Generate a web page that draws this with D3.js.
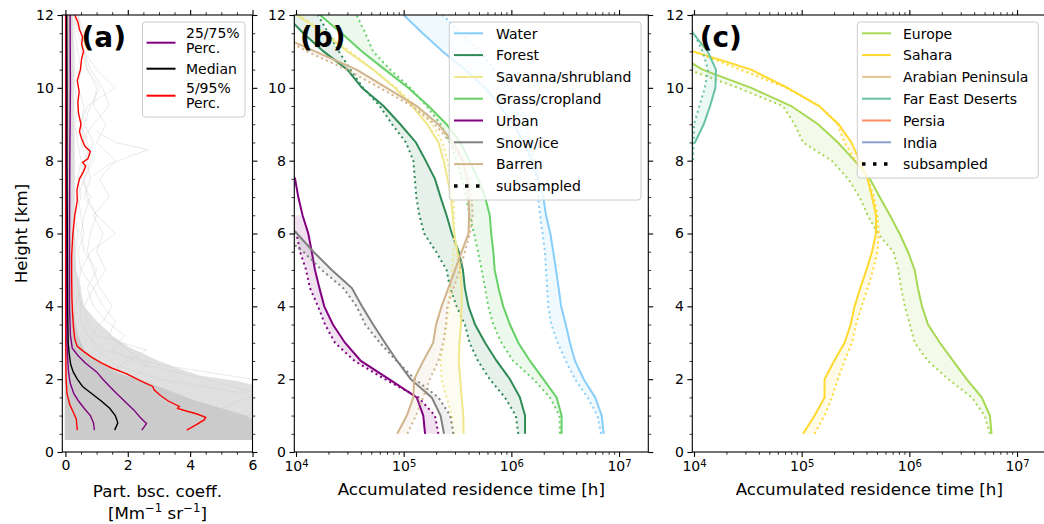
<!DOCTYPE html>
<html>
<head>
<meta charset="utf-8">
<script src="https://cdn.jsdelivr.net/npm/d3@7"></script>
<style>
  body { margin: 0; background: #fff; }
  text { font-family: "DejaVu Sans", sans-serif; }
</style>
</head>
<body>
<svg id="fig" width="1044" height="524"></svg>
<script>
// ---------------- data: panel (a) backscatter profiles ----------------
// percentile profiles (height km, coefficient Mm-1 sr-1)
const p05H = [0.6, 0.9, 1.1, 1.3, 1.6, 2.0, 3, 6, 12];
const p05X = [0.38, 0.35, 0.25, 0.14, 0.05, 0.02, 0.01, 0.01, 0.01];
const p25H = [0.6, 0.8, 1.0, 1.2, 1.4, 1.6, 1.9, 2.2, 2.6, 3.0, 4, 6, 8, 10, 12];
const p25X = [0.93, 0.9, 0.8, 0.6, 0.42, 0.27, 0.15, 0.1, 0.07, 0.05, 0.04, 0.04, 0.03, 0.03, 0.03];
const medH = [0.6, 0.8, 1.0, 1.2, 1.4, 1.6, 1.8, 2.0, 2.2, 2.4, 2.7, 3.0, 4, 6, 8, 10, 12];
const medX = [1.58, 1.68, 1.6, 1.42, 1.15, 0.85, 0.55, 0.38, 0.25, 0.17, 0.12, 0.09, 0.07, 0.06, 0.05, 0.05, 0.04];
const p75H = [0.6, 0.78, 0.95, 1.15, 1.35, 1.6, 1.8, 2.0, 2.2, 2.45, 2.65, 2.85, 3.2, 4, 6, 8, 10, 12];
const p75X = [2.45, 2.6, 2.4, 2.2, 1.95, 1.65, 1.42, 1.2, 1.0, 0.63, 0.4, 0.22, 0.16, 0.13, 0.13, 0.14, 0.16, 0.15];
const p95H = [0.6, 0.75, 0.88, 0.95, 1.05, 1.12, 1.2, 1.25, 1.4, 1.55, 1.7, 1.8, 1.9, 2.0, 2.15, 2.3, 2.45, 2.6,
              2.75, 2.9, 3.1, 3.4, 3.8, 4.2, 4.8, 5.4, 6.0, 6.5, 6.9, 7.2, 7.5, 7.7, 7.85, 7.95, 8.05, 8.25,
              8.4, 8.6, 8.8, 9.0, 9.3, 9.6, 9.9, 10.2, 10.5, 10.8, 11.0, 11.2, 11.4, 11.6, 11.8, 12.0];
const p95X = [3.89, 4.2, 4.45, 4.5, 4.2, 3.9, 3.6, 3.65, 3.3, 3.05, 2.85, 2.8, 2.55, 2.3, 1.95, 1.5, 1.15, 0.85,
              0.6, 0.38, 0.3, 0.26, 0.23, 0.21, 0.2, 0.2, 0.24, 0.3, 0.38, 0.37, 0.45, 0.58, 0.65, 0.55, 0.72, 0.8,
              0.62, 0.52, 0.45, 0.5, 0.42, 0.4, 0.44, 0.38, 0.48, 0.52, 0.58, 0.52, 0.55, 0.45, 0.4, 0.3];
// outer (light) and core (dense) extent of the individual-profile cloud
const outerH = [0.33, 0.5, 1.0, 1.5, 1.8, 1.95, 2.1, 2.3, 2.5, 2.7, 2.9, 3.2, 3.6, 4.0, 5.0, 6.0, 8.0, 10.0, 12.0];
const outerX = [6.2, 6.2, 6.2, 6.2, 6.2, 5.5, 4.3, 3.6, 3.0, 2.5, 2.0, 1.5, 1.0, 0.6, 0.35, 0.3, 0.3, 0.28, 0.25];
const coreH = [0.33, 0.45, 0.6, 0.8, 1.0, 1.2, 1.4, 1.6, 1.8, 2.0, 2.2, 2.5, 2.8, 3.2, 3.6, 4.0, 5, 6, 8, 10, 12];
const coreX = [6.2, 6.2, 6.2, 6.2, 5.8, 5.0, 4.2, 3.6, 3.0, 2.3, 1.6, 1.0, 0.6, 0.4, 0.3, 0.22, 0.18, 0.18, 0.18, 0.16, 0.15];
// some single profiles
const profH = [0.4, 0.8, 1.2, 1.6, 2.0, 2.4, 2.8, 3.2, 3.6, 4.0, 4.5, 5.0, 5.5, 6.0, 6.5, 7.0, 7.5, 8.0, 8.5, 9.0, 9.5, 10.0, 10.5, 11.0, 11.5, 12.0];
const prof1 = [5.5, 6.2, 6.2, 5.8, 3.0, 1.6, 1.0, 0.8, 1.2, 1.5, 1.1, 0.9, 0.7, 0.8, 1.0, 0.7, 0.6, 0.9, 0.7, 0.5, 0.6, 0.4, 0.5, 0.4, 0.3, 0.3];
const prof2 = [3.0, 4.0, 3.5, 2.8, 2.2, 2.6, 2.0, 1.4, 1.6, 1.2, 0.9, 1.3, 1.0, 1.2, 0.9, 1.4, 1.1, 1.6, 1.0, 1.3, 0.9, 1.0, 0.7, 0.6, 0.5, 0.4];
const prof3 = [4.0, 5.5, 6.2, 6.2, 4.5, 2.5, 1.5, 1.9, 1.3, 0.9, 0.7, 1.0, 0.6, 0.5, 0.6, 0.8, 0.5, 0.6, 0.9, 0.6, 0.8, 1.1, 0.7, 0.5, 0.6, 0.4];
const prof4 = [2.0, 2.5, 2.0, 1.6, 1.4, 1.8, 2.6, 1.0, 0.7, 0.6, 0.9, 0.5, 0.8, 1.6, 1.0, 0.6, 0.8, 0.7, 0.5, 0.9, 1.4, 1.2, 0.8, 0.6, 0.4, 0.3];
const prof5 = [6.2, 6.2, 5.0, 6.2, 6.0, 3.0, 1.2, 0.7, 0.5, 0.5, 0.4, 0.5, 0.4, 0.6, 0.5, 0.4, 0.6, 0.8, 0.6, 0.5, 0.7, 1.6, 1.0, 0.6, 0.5, 0.4];
const prof6 = [1.5, 2.0, 2.8, 3.5, 2.4, 1.2, 0.6, 0.4, 0.3, 0.3, 0.5, 0.3, 0.3, 0.4, 0.3, 0.5, 0.4, 0.5, 0.4, 0.3, 0.4, 0.3, 0.3, 0.3, 0.2, 0.2];
const spikeH = [7.6, 7.9, 8.1, 8.3, 8.5, 8.8];
const spikeX = [0.9, 1.4, 2.0, 2.66, 1.6, 1.0];

// ---------------- data: panels (b), (c) residence time [h] ----------------
const heights = [0.5, 1, 1.5, 2, 2.5, 3, 3.5, 4, 4.5, 5, 5.5, 6, 6.5, 7, 7.5, 8, 8.5, 9, 9.5, 10, 10.5, 11, 11.5, 12];

const waterFull  = [7.2e6, 6.9e6, 6.0e6, 4.7e6, 3.9e6, 3.5e6, 3.2e6, 2.9e6, 2.75e6, 2.6e6, 2.45e6, 2.3e6, 2.1e6, 1.98e6, 1.78e6, 1.55e6, 1.3e6, 1.05e6, 7.8e5, 5.7e5, 3.7e5, 2.3e5, 1.5e5, 1.0e5];
const waterSub   = [6.8e6, 6.3e6, 5.1e6, 3.9e6, 3.2e6, 2.7e6, 2.35e6, 2.2e6, 2.15e6, 2.1e6, 2.05e6, 1.95e6, 1.85e6, 1.77e6, 1.7e6, 1.6e6, 1.5e6, 1.38e6, 1.2e6, 9.7e5, 7.0e5, 5.1e5, 3.45e5, 2.3e5];
const forestFull = [1.34e6, 1.34e6, 1.2e6, 9.7e5, 7.3e5, 5.7e5, 4.6e5, 4.0e5, 3.7e5, 3.55e5, 3.25e5, 2.8e5, 2.5e5, 2.2e5, 1.95e5, 1.6e5, 1.3e5, 9.3e4, 6.5e4, 4.1e4, 3.0e4, 1.8e4, 1.17e4, 8.0e3];
const forestSub  = [1.16e6, 1.1e6, 8.7e5, 6.3e5, 4.9e5, 4.1e5, 3.7e5, 3.1e5, 2.7e5, 2.5e5, 2.0e5, 1.55e5, 1.4e5, 1.31e5, 1.27e5, 1.23e5, 1.05e5, 7.8e4, 6.0e4, 4.2e4, 3.2e4, 2.5e4, 2.0e4, 1.6e4];
const savannaFull = [3.6e5, 3.58e5, 3.45e5, 3.35e5, 3.25e5, 3.3e5, 3.4e5, 3.45e5, 3.45e5, 3.35e5, 3.15e5, 2.95e5, 2.85e5, 2.75e5, 2.55e5, 2.35e5, 2.1e5, 1.65e5, 1.2e5, 8.3e4, 5.2e4, 3.0e4, 1.8e4, 1.02e4];
const savannaSub  = [2.9e5, 2.8e5, 2.5e5, 2.25e5, 2.2e5, 2.35e5, 2.5e5, 2.6e5, 2.7e5, 2.8e5, 2.9e5, 2.95e5, 2.95e5, 2.9e5, 2.75e5, 2.55e5, 2.3e5, 1.85e5, 1.3e5, 8.5e4, 5.2e4, 3.2e4, 1.9e4, 1.07e4];
const grassFull = [2.93e6, 2.93e6, 2.63e6, 1.98e6, 1.49e6, 1.16e6, 9.7e5, 8.4e5, 7.6e5, 7.0e5, 6.8e5, 6.5e5, 6.3e5, 5.7e5, 4.9e5, 4.1e5, 3.35e5, 2.5e5, 1.7e5, 1.1e5, 6.7e4, 4.1e4, 2.65e4, 1.67e4];
const grassSub  = [2.83e6, 2.8e6, 2.28e6, 1.6e6, 1.04e6, 8.1e5, 6.8e5, 6.1e5, 5.7e5, 5.3e5, 4.9e5, 4.5e5, 4.1e5, 3.8e5, 3.45e5, 3.1e5, 2.7e5, 2.2e5, 1.63e5, 1.15e5, 7.5e4, 5.2e4, 4.4e4, 3.65e4];
const urbanFull = [1.58e5, 1.52e5, 1.32e5, 7.3e4, 4.0e4, 2.85e4, 2.2e4, 1.83e4, 1.65e4, 1.5e4, 1.4e4, 1.3e4, 1.15e4, 1.05e4, 9.8e3, 8.0e3, null, null, null, null, null, null, null, null];
const urbanSub  = [2.1e5, 1.95e5, 1.37e5, 6.7e4, 3.5e4, 2.3e4, 1.86e4, 1.6e4, 1.35e4, 1.24e4, 1.09e4, 1.01e4, 8.0e3, null, null, null, null, null, null, null, null, null, null, null];
const snowFull = [2.37e5, 2.2e5, 1.82e5, 1.16e5, 8.7e4, 6.7e4, 5.2e4, 4.1e4, 3.3e4, 2.15e4, 1.45e4, 1.02e4, 7.0e3, null, null, null, null, null, null, null, null, null, null, null];
const snowSub  = [2.9e5, 2.7e5, 2.1e5, 1.27e5, 8.6e4, 6.0e4, 4.4e4, 3.65e4, 2.75e4, 1.73e4, 1.17e4, 7.0e3, null, null, null, null, null, null, null, null, null, null, null, null];
const barrenFull = [8.7e4, 1.07e5, 1.23e5, 1.25e5, 1.52e5, 1.88e5, 2.0e5, 2.25e5, 2.6e5, 3.0e5, 3.45e5, 4.0e5, 4.05e5, 4.0e5, 3.85e5, 3.55e5, 2.9e5, 2.1e5, 1.32e5, 6.95e4, 3.65e4, 1.5e4, 6.3e3, null];
const barrenSub  = [1.08e5, 1.3e5, 1.52e5, 1.75e5, 2.1e5, 2.33e5, 2.47e5, 2.54e5, 2.9e5, 3.33e5, 3.7e5, 4.13e5, 4.37e5, 4.28e5, 4.0e5, 3.46e5, 2.7e5, 1.95e5, 1.19e5, 6.0e4, 2.95e4, 1.26e4, 6.3e3, null];

const europeFull = [5.8e6, 5.6e6, 4.7e6, 3.4e6, 2.55e6, 1.92e6, 1.49e6, 1.31e6, 1.2e6, 1.12e6, 9.7e5, 8.1e5, 6.6e5, 5.3e5, 4.3e5, 3.1e5, 2.17e5, 1.42e5, 8.0e4, 3.4e4, 1.2e4, 6.3e3, null, null];
const europeSub  = [5.6e6, 5.0e6, 3.8e6, 2.3e6, 1.49e6, 1.12e6, 1.01e6, 9.1e5, 8.4e5, 7.9e5, 7.1e5, 5.1e5, 4.1e5, 3.45e5, 2.7e5, 1.9e5, 1.03e5, 8.6e4, 6.7e4, 2.55e4, 8.9e3, 5.0e3, null, null];
const saharaFull = [1.03e5, 1.32e5, 1.63e5, 1.63e5, 2.0e5, 2.5e5, 2.85e5, 3.1e5, 3.5e5, 4.0e5, 4.5e5, 4.9e5, 4.9e5, 4.5e5, 4.1e5, 3.45e5, 2.9e5, 2.2e5, 1.45e5, 7.4e4, 3.4e4, 9.8e3, 5.0e3, null];
const saharaSub  = [1.32e5, 1.63e5, 1.91e5, 2.17e5, 2.5e5, 2.93e5, 3.2e5, 3.6e5, 4.1e5, 4.6e5, 5.05e5, 5.2e5, 5.05e5, 4.7e5, 4.1e5, 3.15e5, 2.5e5, 2.15e5, 1.47e5, 7.2e4, 2.7e4, 9.8e3, 5.0e3, null];
const fareastFull = [null, null, null, null, null, null, null, null, null, null, null, null, null, null, null, 5.0e3, 1.02e4, 1.23e4, 1.41e4, 1.58e4, 1.6e4, 1.34e4, 9.8e3, 5.0e3];
const fareastSub  = [null, null, null, null, null, null, null, null, null, null, null, null, null, null, 5.0e3, 9.8e3, 9.9e3, 1.0e4, 1.12e4, 1.26e4, 1.35e4, 1.2e4, 1.0e4, 6.3e3];

const landNames  = ["Water", "Forest", "Savanna/shrubland", "Grass/cropland", "Urban", "Snow/ice", "Barren"];
const landColors = ["#87cefa", "#2e8b57", "#f0e68c", "#66d166", "#800080", "#808080", "#d2b48c"];
const landFull = [waterFull, forestFull, savannaFull, grassFull, urbanFull, snowFull, barrenFull];
const landSub  = [waterSub, forestSub, savannaSub, grassSub, urbanSub, snowSub, barrenSub];

const regionNames  = ["Europe", "Sahara", "Arabian Peninsula", "Far East Deserts", "Persia", "India"];
const regionColors = ["#a6d854", "#ffd92f", "#e5c494", "#66c2a5", "#fc8d62", "#8da0cb"];
// Arabian Peninsula, Persia and India stay below the plotted range
const regionFull = [europeFull, saharaFull, null, fareastFull, null, null];
const regionSub  = [europeSub, saharaSub, null, fareastSub, null, null];

// ---------------- layout ----------------
const svg = d3.select("#fig");
const TOP = 15, BOT = 452;
const y = d3.scaleLinear().domain([0, 12]).range([BOT, TOP]);
const xA = d3.scaleLinear().domain([-0.1, 6]).range([62.3, 252.5]);
const xB = d3.scaleLog().domain([9.64e3, 1.87e7]).range([294.3, 648.3]);
const xC = d3.scaleLog().domain([9.64e3, 1.87e7]).range([692.3, 1046.3]);

const MAJ = 4.9, MIN = 2.8, FS = 14;
const yMajor = [0, 2, 4, 6, 8, 10, 12];
const yMinor = d3.range(0, 12.01, 0.5).filter(v => v % 2 !== 0);
const logMajor = [1e4, 1e5, 1e6, 1e7];
const logMinor = [];
[3, 4, 5, 6, 7].forEach(k => { for (let m = 2; m <= 9; m++) { const v = m * Math.pow(10, k); if (v > 9.64e3 && v < 1.87e7) logMinor.push(v); } });

function styleAxis(g, w) {
  g.select(".domain").remove();
  g.selectAll(".tick line").attr("stroke", "#000").attr("stroke-width", w);
  g.attr("font-size", FS).attr("font-family", "DejaVu Sans").selectAll("text").attr("fill", "#000");
}

function frame(id, x, xMajor, xMinor, isLog) {
  const g = svg.append("g").attr("id", id);
  const [l, r] = x.range();
  const clipId = "clip-" + id;
  svg.append("clipPath").attr("id", clipId).append("rect")
    .attr("x", l).attr("y", TOP).attr("width", r - l).attr("height", BOT - TOP);
  const plot = g.append("g").attr("clip-path", `url(#${clipId})`);

  const fmt = isLog ? (() => "") : d3.format("d");
  const bx = g.append("g").attr("transform", `translate(0,${BOT})`)
    .call(d3.axisBottom(x).tickValues(xMajor).tickSize(MAJ).tickPadding(3.5).tickFormat(fmt));
  styleAxis(bx, 1.1);
  if (isLog) {
    bx.selectAll(".tick text").each(function(d) {
      const t = d3.select(this).attr("y", 9.5);
      t.append("tspan").text("10");
      t.append("tspan").attr("dy", "-0.45em").attr("font-size", 10).text(Math.round(Math.log10(d)));
    });
  }
  const bm = g.append("g").attr("transform", `translate(0,${BOT})`)
    .call(d3.axisBottom(x).tickValues(xMinor).tickSize(MIN).tickFormat(""));
  styleAxis(bm, 0.8);
  const tx = g.append("g").attr("transform", `translate(0,${TOP})`)
    .call(d3.axisTop(x).tickValues(xMajor).tickSize(MAJ).tickFormat(""));
  styleAxis(tx, 1.1);
  const tm = g.append("g").attr("transform", `translate(0,${TOP})`)
    .call(d3.axisTop(x).tickValues(xMinor).tickSize(MIN).tickFormat(""));
  styleAxis(tm, 0.8);

  const ly = g.append("g").attr("transform", `translate(${l},0)`)
    .call(d3.axisLeft(y).tickValues(yMajor).tickSize(MAJ).tickPadding(3.5).tickFormat(d3.format("d")));
  styleAxis(ly, 1.1);
  const lm = g.append("g").attr("transform", `translate(${l},0)`)
    .call(d3.axisLeft(y).tickValues(yMinor).tickSize(MIN).tickFormat(""));
  styleAxis(lm, 0.8);
  const ry = g.append("g").attr("transform", `translate(${r},0)`)
    .call(d3.axisRight(y).tickValues(yMajor).tickSize(MAJ).tickFormat(""));
  styleAxis(ry, 1.1);
  const rm = g.append("g").attr("transform", `translate(${r},0)`)
    .call(d3.axisRight(y).tickValues(yMinor).tickSize(MIN).tickFormat(""));
  styleAxis(rm, 0.8);

  g.append("rect").attr("x", l).attr("y", TOP).attr("width", r - l).attr("height", BOT - TOP)
    .attr("fill", "none").attr("stroke", "#000").attr("stroke-width", 1.1);
  return {g, plot};
}

function legend(g, box, rows, hx, tx) {
  g.append("rect").attr("x", box.x).attr("y", box.y).attr("width", box.w).attr("height", box.h)
    .attr("rx", 3).attr("fill", "#fff").attr("fill-opacity", 0.8)
    .attr("stroke", "#cccccc").attr("stroke-width", 1);
  rows.forEach(rw => {
    g.append("line").attr("x1", hx).attr("x2", hx + 29).attr("y1", rw.hy).attr("y2", rw.hy)
      .attr("stroke", rw.color).attr("stroke-width", rw.width || 2)
      .attr("stroke-dasharray", rw.dash || null);
    rw.lines.forEach((s, i) => {
      g.append("text").attr("x", tx).attr("y", rw.ty + i * 15).attr("font-size", FS).attr("fill", "#000").text(s);
    });
  });
}

// ---------------- panel (a) ----------------
const A = frame("pa", xA, [0, 2, 4, 6], d3.range(0.5, 6, 0.5).filter(v => v % 2 !== 0), false);
const lineA = d3.line().x(d => xA(d[1])).y(d => y(d[0]));
const zipHX = (h, x) => h.map((v, i) => [v, x[i]]);
const cloudArea = d3.area().y(d => y(d[0])).x0(xA(-0.02)).x1(d => xA(d[1]));

A.plot.append("path").datum(zipHX(outerH, outerX)).attr("d", cloudArea).attr("fill", "#e0e0e0");
A.plot.append("path").datum(zipHX(coreH, coreX)).attr("d", cloudArea).attr("fill", "#cbcbcb");
[prof1, prof2, prof3, prof4, prof5, prof6].forEach(p => {
  A.plot.append("path").datum(zipHX(profH, p)).attr("d", lineA)
    .attr("fill", "none").attr("stroke", "#d0d0d0").attr("stroke-opacity", 0.6).attr("stroke-width", 0.8);
});
A.plot.append("path").datum(zipHX(spikeH, spikeX)).attr("d", lineA)
  .attr("fill", "none").attr("stroke", "#d0d0d0").attr("stroke-opacity", 0.6).attr("stroke-width", 0.8);

const pct = [
  {h: p05H, x: p05X, c: "#ff0000"}, {h: p95H, x: p95X, c: "#ff0000"},
  {h: p25H, x: p25X, c: "#800080"}, {h: p75H, x: p75X, c: "#800080"},
  {h: medH, x: medX, c: "#000000"}
];
pct.forEach(p => {
  A.plot.append("path").datum(zipHX(p.h, p.x)).attr("d", lineA)
    .attr("fill", "none").attr("stroke", p.c).attr("stroke-width", 1.4);
});
legend(A.g, {x: 142.5, y: 22, w: 102.5, h: 95}, [
  {lines: ["25/75%", "Perc."], color: "#800080", hy: 42.7, ty: 38.3},
  {lines: ["Median"], color: "#000000", hy: 68.7, ty: 74},
  {lines: ["5/95%", "Perc."], color: "#ff0000", hy: 95.7, ty: 93.3}
], 146.5, 186);

// ---------------- panels (b) and (c) ----------------
function drawSeries(P, x, names, colors, full, sub) {
  const line = d3.line().defined(d => d[1] != null).x(d => x(d[1])).y(d => y(d[0]));
  const area = d3.area().defined(d => d[1] != null && d[2] != null)
    .y(d => y(d[0])).x0(d => x(d[1])).x1(d => x(d[2]));
  names.forEach((n, i) => {
    if (!full[i]) return;
    const rows = heights.map((h, j) => [h, full[i][j], sub[i][j]]);
    P.plot.append("path").datum(rows).attr("d", area)
      .attr("fill", colors[i]).attr("fill-opacity", 0.12);
    P.plot.append("path").datum(rows.map(r => [r[0], r[1]])).attr("d", line)
      .attr("fill", "none").attr("stroke", colors[i]).attr("stroke-width", 2);
    P.plot.append("path").datum(rows.map(r => [r[0], r[2]])).attr("d", line)
      .attr("fill", "none").attr("stroke", colors[i]).attr("stroke-width", 2)
      .attr("stroke-dasharray", "2,3.3");
  });
}

const B = frame("pb", xB, logMajor, logMinor, true);
drawSeries(B, xB, landNames, landColors, landFull, landSub);
const C = frame("pc", xC, logMajor, logMinor, true);
drawSeries(C, xC, regionNames, regionColors, regionFull, regionSub);

const rowStep = 21.8;
legend(B.g, {x: 449.3, y: 22, w: 191.7, h: 178},
  landNames.map((n, i) => ({lines: [n], color: landColors[i], hy: 33.3 + i * rowStep, ty: 38.6 + i * rowStep}))
    .concat([{lines: ["subsampled"], color: "#000", width: 3.5, dash: "3.5,7.5", hy: 33.3 + 7 * rowStep, ty: 38.6 + 7 * rowStep}]),
  454, 496);
legend(C.g, {x: 857.3, y: 22, w: 181, h: 156},
  regionNames.map((n, i) => ({lines: [n], color: regionColors[i], hy: 33.3 + i * rowStep, ty: 38.6 + i * rowStep}))
    .concat([{lines: ["subsampled"], color: "#000", width: 3.5, dash: "3.5,7.5", hy: 33.3 + 6 * rowStep, ty: 38.6 + 6 * rowStep}]),
  862, 903);

// ---------------- labels ----------------
const lbl = svg.append("g").attr("fill", "#000");
lbl.append("text").attr("transform", "translate(27,233.5) rotate(-90)").attr("text-anchor", "middle")
  .attr("font-size", 16.7).text("Height [km]");
lbl.append("text").attr("x", 157.4).attr("y", 496.5).attr("text-anchor", "middle").attr("font-size", 16.7)
  .text("Part. bsc. coeff.");
const unit = lbl.append("text").attr("x", 157.4).attr("y", 518.5).attr("text-anchor", "middle").attr("font-size", 16.7);
unit.append("tspan").text("[Mm");
unit.append("tspan").attr("dy", -6.5).attr("font-size", 11.7).text("\u22121");
unit.append("tspan").attr("dy", 6.5).text(" sr");
unit.append("tspan").attr("dy", -6.5).attr("font-size", 11.7).text("\u22121");
unit.append("tspan").attr("dy", 6.5).text("]");
[[471.3, "Accumulated residence time [h]"], [869.3, "Accumulated residence time [h]"]].forEach(([cx, s]) => {
  lbl.append("text").attr("x", cx).attr("y", 495).attr("text-anchor", "middle").attr("font-size", 16.7).text(s);
});
[[81.5, "(a)"], [300, "(b)"], [699.7, "(c)"]].forEach(([px, s]) => {
  lbl.append("text").attr("x", px).attr("y", 46.5).attr("font-size", 28).attr("font-weight", "bold").text(s);
});
</script>
</body>
</html>
